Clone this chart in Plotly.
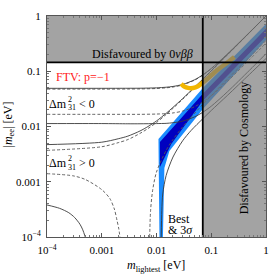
import plotly.graph_objects as go

# ---------------- data ----------------
# Normal ordering (dm31^2 > 0)
no_max_m = [1e-4, 1e-3, 2e-3, 3e-3, 5e-3, 7e-3, 0.01, 0.015, 0.02, 0.03, 0.05, 0.07, 0.1, 0.2, 0.5, 1.0]
no_best_max = [0.0037, 0.0043, 0.0051, 0.0058, 0.0075, 0.0092, 0.0118, 0.0165, 0.0213, 0.031, 0.0507, 0.0705, 0.1004, 0.2002, 0.5, 1.0]
no_3s_max = [0.0047, 0.0052, 0.0060, 0.0067, 0.0083, 0.0100, 0.0126, 0.0173, 0.0222, 0.032, 0.052, 0.072, 0.102, 0.202, 0.502, 1.0]

no_best_min_a_m = [1e-4, 3e-4, 5e-4, 1e-3, 1.4e-3, 1.7e-3, 1.9e-3, 2.05e-3, 2.15e-3]
no_best_min_a = [0.00140, 0.00128, 0.00110, 0.00072, 0.00050, 0.00032, 0.00020, 0.00014, 0.0001]
no_best_min_b_m = [0.0075, 0.0078, 0.0085, 0.01, 0.015, 0.02, 0.03, 0.05, 0.07, 0.1, 0.2, 0.5, 1.0]
no_best_min_b = [0.0001, 0.0003, 0.0007, 0.0015, 0.0037, 0.0058, 0.0098, 0.0175, 0.025, 0.036, 0.073, 0.18, 0.36]

no_3s_min_a_m = [1e-4, 1.7e-4, 2.5e-4, 3.2e-4, 4e-4, 4.5e-4, 5.0e-4]
no_3s_min_a = [3.8e-4, 3.3e-4, 2.75e-4, 2.25e-4, 1.7e-4, 1.35e-4, 1.0e-4]
no_3s_min_b_m = [0.0122, 0.0125, 0.013, 0.015, 0.02, 0.03, 0.043, 0.07, 0.1, 0.2, 0.5, 1.0]
no_3s_min_b = [0.0001, 0.0003, 0.0006, 0.0013, 0.0028, 0.0055, 0.0085, 0.0138, 0.0195, 0.037, 0.088, 0.17]

# Inverted ordering (dm31^2 < 0)
io_m = [1e-4, 1e-3, 3e-3, 5e-3, 0.01, 0.015, 0.02, 0.03, 0.05, 0.07, 0.1, 0.2, 0.5, 1.0]
io_best_max = [0.0475, 0.0475, 0.0477, 0.0479, 0.0487, 0.0501, 0.0518, 0.0565, 0.0693, 0.0849, 0.1109, 0.2057, 0.5023, 1.0]
io_3s_max = [0.0491, 0.0491, 0.0492, 0.0493, 0.0501, 0.0514, 0.0531, 0.0577, 0.0704, 0.0861, 0.1123, 0.2078, 0.505, 1.0]
io_best_min = [0.0166, 0.0166, 0.0166, 0.0166, 0.0168, 0.0171, 0.0176, 0.0190, 0.0229, 0.0278, 0.0361, 0.0666, 0.1623, 0.3235]
io_3s_min = [0.0113, 0.0113, 0.0112, 0.0112, 0.0113, 0.0114, 0.0117, 0.0125, 0.0150, 0.0181, 0.0233, 0.0429, 0.1043, 0.2078]

# Model prediction regions (Best & 3 sigma)
band3s_m = [0.01132, 0.01086, 0.01086, 0.0703, 1.0, 1.0, 0.0703, 0.01720, 0.01393, 0.0131]
band3s_mee = [1e-4, 0.001774, 0.00594, 0.0498, 0.716, 0.368, 0.0208, 0.00360, 0.001774, 1e-4]
bandbest_m = [0.01156, 0.0703, 1.0, 1.0, 0.0703, 0.01862, 0.01156]
bandbest_mee = [0.00524, 0.0390, 0.590, 0.430, 0.0292, 0.00483, 0.00185]

# FTV p=-1 prediction
ftv_m = [0.0282, 0.0320, 0.0378, 0.0465, 0.0572, 0.0703, 0.0940, 0.1309, 0.1824, 0.2649]
ftv_mee = [0.0590, 0.0530, 0.0500, 0.0498, 0.0535, 0.0625, 0.0795, 0.1060, 0.1352, 0.1811]

# bounds
mee_bound = 0.145      # 0vbb
mlight_bound = 0.07    # cosmology

x_tickvals = [1e-4, 1e-3, 1e-2, 1e-1, 1]
x_ticktext = ["10<sup>−4</sup>", "0.001", "0.01", "0.1", "1"]
y_tickvals = [1e-4, 1e-3, 1e-2, 1e-1, 1]
y_ticktext = ["10<sup>−4</sup>", "0.001", "0.01", "0.1", "1"]

# ---------------- figure ----------------
FONT = "Liberation Serif"
fig = go.Figure()

LIGHT = "#1a8cff"
DARK = "#0000c0"
fig.add_trace(go.Scatter(x=band3s_m, y=band3s_mee, fill="toself", fillcolor=LIGHT,
                         line=dict(width=0), mode="lines", hoverinfo="skip"))
fig.add_trace(go.Scatter(x=bandbest_m, y=bandbest_mee, fill="toself", fillcolor=DARK,
                         line=dict(width=0), mode="lines", hoverinfo="skip"))

SOLID = dict(color="#3a3a3a", width=0.9, shape="spline", smoothing=0.8)
DASH = dict(color="#555555", width=0.9, dash="3px,2px", shape="spline", smoothing=0.8)

curves = [
    (no_max_m, no_best_max, DASH), (no_max_m, no_3s_max, SOLID),
    (no_best_min_a_m, no_best_min_a, DASH), (no_best_min_b_m, no_best_min_b, DASH),
    (no_3s_min_a_m, no_3s_min_a, SOLID), (no_3s_min_b_m, no_3s_min_b, SOLID),
    (io_m, io_best_max, DASH), (io_m, io_3s_max, SOLID),
    (io_m, io_best_min, DASH), (io_m, io_3s_min, SOLID),
]
for xs, ys, ln in curves:
    fig.add_trace(go.Scatter(x=xs, y=ys, mode="lines", line=ln, hoverinfo="skip"))

fig.add_trace(go.Scatter(x=ftv_m, y=ftv_mee, mode="lines",
                         line=dict(color="#f2b600", width=4.5, shape="spline", smoothing=0.6),
                         hoverinfo="skip"))

# disfavoured regions (single L-shaped polygon)
gx = [1e-4, mlight_bound, mlight_bound, 1, 1, 1e-4, 1e-4]
gy = [mee_bound, mee_bound, 1e-4, 1e-4, 1, 1, mee_bound]
fig.add_trace(go.Scatter(x=gx, y=gy, fill="toself", fillcolor="rgba(120,120,120,0.68)",
                         line=dict(width=0), mode="lines", hoverinfo="skip"))

fig.add_trace(go.Scatter(x=[1e-4, 1], y=[mee_bound, mee_bound], mode="lines",
                         line=dict(color="black", width=1.8), hoverinfo="skip"))
fig.add_trace(go.Scatter(x=[mlight_bound, mlight_bound], y=[1e-4, 1], mode="lines",
                         line=dict(color="black", width=1.8), hoverinfo="skip"))

L, R, T, B = 47, 4, 16, 37
W, H = 273, 274
pw, ph = W - L - R, H - T - B


def px(xp, yp):
    return (xp - L) / pw, (H - B - yp) / ph


anns = []


def add(text, xpix, ypix, size=12, color="black", xanchor="center", angle=0):
    xx, yy = px(xpix, ypix)
    anns.append(dict(text=text, x=xx, y=yy, xref="paper", yref="paper", showarrow=False,
                     xanchor=xanchor, yanchor="middle", textangle=angle, borderpad=0,
                     font=dict(family=FONT, size=size, color=color)))


add("Disfavoured by 0<i>νββ</i>", 144, 54)
add("Disfavoured by Cosmology", 247, 148, angle=-90)
add("FTV: p=−1", 83, 77, color="#ff1a1a")
for yc, sign in [(104, "<"), (163, ">")]:
    add("Δm", 48, yc, xanchor="left")
    add("2", 67, yc - 5, size=8, xanchor="left")
    add("31", 67, yc + 4, size=8, xanchor="left")
    add(sign + " 0", 78, yc, xanchor="left")
add("Best", 169, 219, xanchor="left")
add("& 3<i>σ</i>", 169, 229.5, xanchor="left")
add("<i>m</i><sub>lightest</sub> [eV]", 157, 266)
add("|<i>m</i><sub>ee</sub>| [eV]", 8, 125, angle=-90)

minor_vals = [k * 10 ** e for e in range(-4, 0) for k in range(2, 10)]

axis_common = dict(type="log", range=[-4, 0], showgrid=False, zeroline=False,
                   showline=True, linecolor="#555555", linewidth=1, mirror="allticks",
                   ticks="inside", ticklen=4, tickcolor="#555555", tickwidth=0.8,
                   tickfont=dict(family=FONT, size=11, color="black"),
                   minor=dict(tickvals=minor_vals, ticks="inside", ticklen=2,
                              tickcolor="#777777", tickwidth=0.6, showgrid=False))

fig.update_layout(
    width=W, height=H, margin=dict(l=L, r=R, t=T, b=B),
    paper_bgcolor="white", plot_bgcolor="white", showlegend=False,
    xaxis=dict(**axis_common, tickvals=x_tickvals, ticktext=x_ticktext, ticklabelstandoff=3),
    yaxis=dict(**axis_common, tickvals=y_tickvals, ticktext=y_ticktext, ticklabelstandoff=3),
    annotations=anns,
)

fig.write_html("out.html", config={"displayModeBar": False},
               post_script="document.body.style.margin='0';")
